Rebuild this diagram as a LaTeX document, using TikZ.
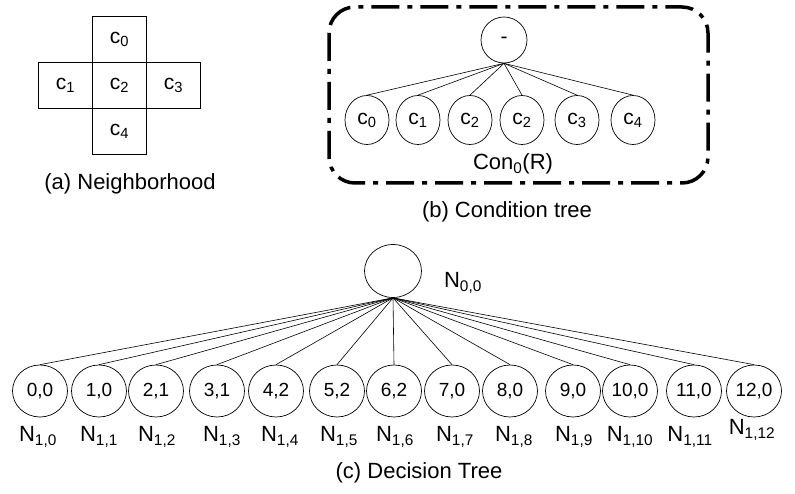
\documentclass[tikz,border=0pt]{standalone}
\usepackage{fontspec}
\setmainfont{Liberation Sans}
\usetikzlibrary{shapes.geometric}
\newcommand{\sbs}[1]{\textsubscript{#1}}
\begin{document}
\begin{tikzpicture}[x=1pt,y=-1pt,
  cell/.style={draw,line width=0.9pt,minimum width=54pt,minimum height=46pt,inner sep=0pt,font=\fontsize{21}{23}\selectfont},
  ctnode/.style={draw,ellipse,line width=0.7pt,minimum width=44pt,minimum height=49pt,inner sep=0pt,font=\fontsize{21}{23}\selectfont},
  dtnode/.style={draw,ellipse,line width=0.7pt,minimum width=55pt,minimum height=52pt,inner sep=0pt,font=\fontsize{19}{21}\selectfont},
  nlabel/.style={font=\fontsize{22}{24}\selectfont,inner sep=0pt},
  caption/.style={font=\fontsize{22}{24}\selectfont,inner sep=0pt},
  edge/.style={line width=0.6pt}]
\useasboundingbox (0,0) rectangle (795,494);
% (a) Neighborhood
\node[cell] (n0) at (119.5,39.5) {c\sbs{0}};
\node[cell] (n2) at (119.5,85.5) {c\sbs{2}};
\node[cell] (n1) at (65.5,85.5) {c\sbs{1}};
\node[cell] (n3) at (173.5,85.5) {c\sbs{3}};
\node[cell] (n4) at (119.5,131.5) {c\sbs{4}};
\node[caption] (capa) at (130,184) {(a) Neighborhood};
% (b) Condition tree
\draw[line width=3.5pt,dash pattern=on 28pt off 8pt on 5pt off 8pt,rounded corners=26pt] (329,7) rectangle (708,183);
\node[ctnode,minimum width=46pt,minimum height=46pt] (root) at (504,40) {-};
\node[ctnode] (b0) at (367,120) {c\sbs{0}};
\node[ctnode] (b1) at (418,120) {c\sbs{1}};
\node[ctnode] (b2) at (470,120) {c\sbs{2}};
\node[ctnode] (b3) at (522,120) {c\sbs{2}};
\node[ctnode] (b4) at (577,120) {c\sbs{3}};
\node[ctnode] (b5) at (633,120) {c\sbs{4}};
\foreach \i in {b0,b1,b2,b3,b4,b5} \draw[edge] (root.south) -- (\i.north);
\node[caption] (con) at (513,164) {Con\sbs{0}(R)};
\node[caption] (capb) at (507,212) {(b) Condition tree};
% (c) Decision tree
\node[dtnode,minimum width=57pt,minimum height=53pt] (d) at (393,271) {};
\node[nlabel] (dl) at (463,283) {N\sbs{0,0}};
\foreach \x/\t/\k in {40/{0,0}/0,99/{1,0}/1,156/{2,1}/2,217/{3,1}/3,276/{4,2}/4,337/{5,2}/5,394/{6,2}/6,452/{7,0}/7,510/{8,0}/8,573/{9,0}/9,630/{10,0}/10,694/{11,0}/11,754/{12,0}/12} {
  \node[dtnode] (c\k) at (\x,391) {\t};
  \draw[edge] (d.south) -- (c\k.north);
}
\foreach \x/\k in {38/0,99/1,157/2,222/3,280/4,339/5,395/6,455/7,514/8,574/9,630/10,690/11} {
  \node[nlabel] (l\k) at (\x,437) {N\sbs{1,\k}};
}
\node[nlabel] (l12) at (752,430) {N\sbs{1,12}};
\node[caption] (capc) at (419,473) {(c) Decision Tree};
\end{tikzpicture}
\end{document}
